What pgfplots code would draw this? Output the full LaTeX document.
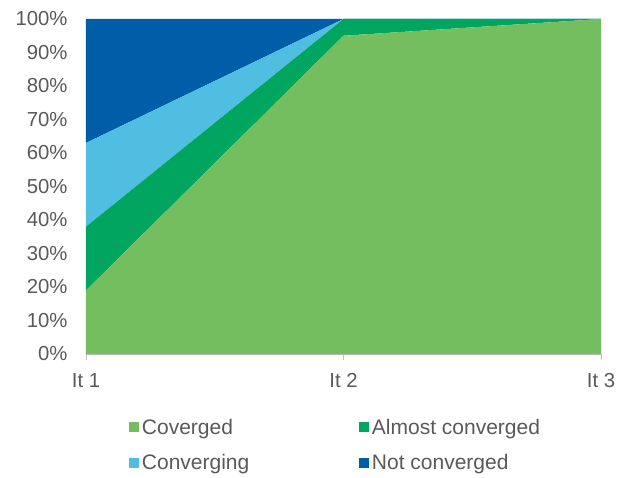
\documentclass[border=0pt]{standalone}
\usepackage{fontspec}
\setmainfont{Liberation Sans}
\usepackage{pgfplots}
\pgfplotsset{compat=1.18}
\definecolor{cConv}{HTML}{75BE5F}
\definecolor{cAlmost}{HTML}{00A65F}
\definecolor{cConvg}{HTML}{4FBEE0}
\definecolor{cNot}{HTML}{005EA8}
\definecolor{txt}{HTML}{595959}
\definecolor{axl}{HTML}{BFBFBF}
\begin{document}
\begin{tikzpicture}
\useasboundingbox (-86bp,-124bp) rectangle (542bp,335bp+19bp);
\begin{axis}[
  scale only axis,
  width=515bp, height=335bp,
  xmin=1, xmax=3, ymin=0, ymax=100,
  stack plots=y,
  xtick={1,2,3}, xticklabels={It 1,It 2,It 3},
  ytick={0,10,...,100},
  yticklabel={\pgfmathprintnumber{\tick}\%},
  /pgf/number format/assume math mode=true,
  font=\fontsize{20.3bp}{24bp}\selectfont,
  ticklabel style={text=txt, font=\fontsize{20.3bp}{24bp}\selectfont},
  axis line style={draw=none},
  x axis line style={draw=axl},
  axis x line*=bottom,
  axis y line*=left,
  y axis line style={draw=none},
  ytick style={draw=none},
  xtick style={draw=axl, line width=0.8pt},
  xtick align=outside,
  major tick length=6bp,
  xticklabel style={yshift=-10bp},
  yticklabel style={xshift=-15bp},
  ymajorgrids=true,
  grid style={draw=axl!60, line width=0.8pt},
  clip=false,
  legend columns=2,
  legend style={at={(0.083,-0.19)}, anchor=north west, draw=none, fill=none,
    inner sep=0pt, row sep=17bp,
    font=\fontsize{21bp}{24bp}\selectfont, text=txt,
    nodes={inner xsep=3bp, inner ysep=1bp}},
  legend cell align=left,
  legend image code/.code={\fill[#1] (0bp,-5bp) rectangle (10bp,5bp);},
]
\addplot[fill=cConv, draw=none] coordinates {(1,19) (2,95) (3,100)} \closedcycle;
\addplot[fill=cAlmost, draw=none] coordinates {(1,19) (2,5) (3,0)} \closedcycle;
\addplot[fill=cConvg, draw=none] coordinates {(1,25) (2,0) (3,0)} \closedcycle;
\addplot[fill=cNot, draw=none] coordinates {(1,37) (2,0) (3,0)} \closedcycle;
\legend{\makebox[214bp][l]{Coverged},Almost converged,Converging,Not converged}
\end{axis}
\end{tikzpicture}
\end{document}
